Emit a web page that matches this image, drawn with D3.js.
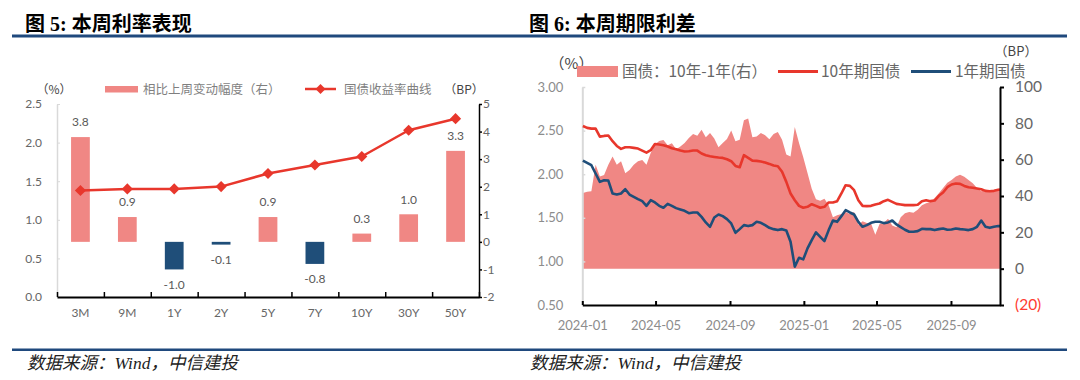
<!DOCTYPE html>
<html><head><meta charset="utf-8">
<script src="https://cdn.jsdelivr.net/npm/d3@7"></script>
<style>body{margin:0;background:#fff}svg{display:block}</style>
</head><body>
<svg id="c" width="1080" height="380"></svg>
<script>
// ---------- Figure 5 data ----------
const tenors = ["3M","9M","1Y","2Y","5Y","7Y","10Y","30Y","50Y"];
const yieldCurve = [1.38,1.40,1.40,1.43,1.60,1.71,1.82,2.16,2.31];
const weeklyChangeBP = [3.8,0.9,-1.0,-0.1,0.9,-0.8,0.3,1.0,3.3];
const curveTicks = [0,0.5,1.0,1.5,2.0,2.5];
const changeTicks = [-2,-1,0,1,2,3,4,5];

// ---------- Figure 6 data ----------
const dates = ["2024-01-02","2024-01-09","2024-01-16","2024-01-23","2024-01-30","2024-02-06","2024-02-13","2024-02-20","2024-02-27","2024-03-05",
"2024-03-12","2024-03-19","2024-03-26","2024-04-02","2024-04-09","2024-04-16","2024-04-23","2024-04-30","2024-05-07","2024-05-14",
"2024-05-21","2024-05-28","2024-06-04","2024-06-11","2024-06-18","2024-06-25","2024-07-02","2024-07-09","2024-07-16","2024-07-23",
"2024-07-30","2024-08-06","2024-08-13","2024-08-20","2024-08-27","2024-09-03","2024-09-10","2024-09-17","2024-09-24","2024-10-01",
"2024-10-08","2024-10-15","2024-10-22","2024-10-29","2024-11-05","2024-11-12","2024-11-19","2024-11-26","2024-12-03","2024-12-10",
"2024-12-17","2024-12-24","2024-12-31","2025-01-07","2025-01-14","2025-01-21","2025-01-28","2025-02-04","2025-02-11","2025-02-18",
"2025-02-25","2025-03-04","2025-03-11","2025-03-18","2025-03-25","2025-04-01","2025-04-08","2025-04-15","2025-04-22","2025-04-29",
"2025-05-06","2025-05-13","2025-05-20","2025-05-27","2025-06-03","2025-06-10","2025-06-17","2025-06-24","2025-07-01","2025-07-08",
"2025-07-15","2025-07-22","2025-07-29","2025-08-05","2025-08-12","2025-08-19","2025-08-26","2025-09-02","2025-09-09","2025-09-16",
"2025-09-23","2025-09-30","2025-10-07","2025-10-14","2025-10-21","2025-10-28","2025-11-04","2025-11-11","2025-11-18","2025-11-21"];
const cgb10y = [2.553,2.531,2.523,2.523,2.431,2.439,2.443,2.378,2.324,2.290,
2.309,2.309,2.302,2.294,2.271,2.248,2.275,2.347,2.340,2.332,
2.317,2.298,2.286,2.271,2.260,2.263,2.271,2.271,2.237,2.218,
2.206,2.198,2.191,2.187,2.172,2.149,2.095,2.080,2.218,2.187,
2.156,2.153,2.145,2.134,2.118,2.099,2.092,2.027,1.912,1.779,
1.702,1.637,1.615,1.626,1.656,1.637,1.615,1.626,1.676,1.676,
1.691,1.779,1.874,1.866,1.817,1.702,1.637,1.634,1.637,1.653,
1.664,1.691,1.706,1.683,1.660,1.653,1.645,1.645,1.645,1.649,
1.691,1.702,1.691,1.698,1.752,1.790,1.851,1.882,1.893,1.889,
1.866,1.851,1.844,1.836,1.828,1.809,1.805,1.809,1.821,1.824];
const cgb1y = [2.156,2.130,2.103,2.008,1.912,1.931,1.927,1.779,1.767,1.779,
1.828,1.767,1.740,1.714,1.691,1.637,1.702,1.676,1.637,1.615,
1.660,1.637,1.611,1.595,1.580,1.553,1.561,1.561,1.511,1.447,
1.397,1.504,1.538,1.519,1.485,1.435,1.328,1.370,1.416,1.405,
1.416,1.454,1.443,1.416,1.385,1.370,1.359,1.370,1.355,1.225,
0.940,1.042,1.023,1.149,1.244,1.332,1.282,1.233,1.359,1.469,
1.454,1.519,1.588,1.561,1.538,1.454,1.397,1.416,1.443,1.454,
1.454,1.439,1.447,1.469,1.424,1.393,1.363,1.340,1.340,1.347,
1.374,1.370,1.370,1.359,1.370,1.378,1.363,1.366,1.378,1.370,
1.366,1.359,1.370,1.397,1.469,1.397,1.385,1.397,1.405,1.405];
const spreadBP = [41.7,42.4,42.6,57.2,50.8,51.6,57.2,61.8,57.2,59.1,
52.5,54.3,57.2,59.1,59.8,57.2,63.7,68.3,70.3,70.8,
67.9,69.0,65.7,67.3,69.2,71.9,74.1,73.2,76.5,72.3,
74.7,71.6,66.8,69.2,71.4,76.0,70.1,71.0,81.7,82.6,
72.3,72.8,74.7,73.4,71.2,74.1,75.2,71.0,62.8,61.8,
78.0,69.2,61.3,52.7,44.0,38.2,37.4,38.5,34.9,28.3,
29.4,30.1,31.2,30.1,31.2,24.2,26.1,25.1,24.8,18.7,
24.6,25.1,27.5,23.7,22.8,28.3,30.5,31.2,30.8,32.5,
34.9,36.0,36.7,38.9,41.5,44.4,47.3,48.8,50.8,51.7,
50.6,48.8,47.0,44.4,42.6,43.5,42.9,42.6,43.3,43.5];
const dateTicks = ["2024-01","2024-05","2024-09","2025-01","2025-05","2025-09"];
const rateTicks = [0.5,1.0,1.5,2.0,2.5,3.0];
const spreadTicks = [-20,0,20,40,60,80,100];

// ---------- styling ----------
const NAVY = "#1F4E79", PINK = "#F08784", RED = "#E8372C", RULE = "#1F497D";
const NUM = "Lato, 'Noto Sans CJK SC', sans-serif";
const CJK = "'Noto Sans CJK SC', sans-serif";
const svg = d3.select("#c");

// titles, rules, sources
[[25,"图 5: 本周利率表现"],[529,"图 6: 本周期限利差"]].forEach(([x,t])=>{
  svg.append("text").attr("x",x).attr("y",31).attr("font-family","'Liberation Serif','Noto Sans CJK SC',serif")
    .attr("font-weight","bold").attr("font-size",20).attr("fill","#000").text(t);
});
svg.append("rect").attr("x",12).attr("y",34.5).attr("width",1055).attr("height",3).attr("fill",RULE);
svg.append("rect").attr("x",12).attr("y",348.5).attr("width",1055).attr("height",2.5).attr("fill",RULE);
[27,530].forEach(x=>{
  svg.append("text").attr("x",x).attr("y",369).attr("font-family","'Liberation Serif','Noto Sans CJK SC',serif")
    .attr("font-style","italic").attr("font-size",17.5).attr("fill","#222").text("数据来源：Wind，中信建投");
});

function styleAxis(g, color, lineColor, lineWidth, size){
  g.selectAll("text").attr("font-family",NUM).attr("font-size",size).attr("fill",color);
  g.select(".domain").attr("stroke",lineColor).attr("stroke-width",lineWidth);
  g.selectAll(".tick line").attr("stroke",lineColor).attr("stroke-width",lineWidth);
}

// ================= Figure 5 =================
(function(){
  const L=57, R=479, T=104, B=297;
  const x = d3.scaleBand().domain(tenors).range([L,R]).paddingInner(0.6).paddingOuter(0.3);
  const yL = d3.scaleLinear().domain([0,2.5]).range([B,T]);
  const yR = d3.scaleLinear().domain([-2,5]).range([B,T]);

  // left axis
  const gl = svg.append("g").attr("transform",`translate(${L},0)`)
    .call(d3.axisLeft(yL).tickValues(curveTicks).tickFormat(d3.format(".1f")).tickSize(0).tickSizeOuter(0).tickPadding(15));
  styleAxis(gl,"#666","#d9d9d9",1.5,12);
  svg.append("g").attr("transform",`translate(${L},0)`)
    .call(d3.axisRight(yL).tickValues(curveTicks.slice(1)).tickFormat("").tickSize(3).tickSizeOuter(0))
    .call(g=>{g.select(".domain").remove(); g.selectAll("line").attr("stroke","#d9d9d9");});

  // right axis
  const gr = svg.append("g").attr("transform",`translate(${R},0)`)
    .call(d3.axisRight(yR).tickValues(changeTicks).tickFormat(d=>String(d).replace("−","-")).tickSize(3).tickSizeOuter(0).tickPadding(1));
  styleAxis(gr,"#666","#000",1.5,12);

  // bars
  svg.append("g").selectAll("rect").data(tenors).join("rect")
    .attr("x",d=>x(d)).attr("width",x.bandwidth())
    .attr("y",(d,i)=>Math.min(yR(0),yR(weeklyChangeBP[i])))
    .attr("height",(d,i)=>Math.abs(yR(weeklyChangeBP[i])-yR(0)))
    .attr("fill",(d,i)=>weeklyChangeBP[i]>=0?PINK:NAVY);
  svg.append("g").selectAll("text").data(tenors).join("text")
    .attr("x",d=>x(d)+x.bandwidth()/2)
    .attr("y",(d,i)=>{const v=weeklyChangeBP[i]; return v>=0? yR(v)-15+4.3 : yR(v)+15+4.3;})
    .attr("text-anchor","middle").attr("font-family",NUM).attr("font-size",12).attr("fill","#595959")
    .text((d,i)=>weeklyChangeBP[i].toFixed(1));

  // bottom axis
  const gb = svg.append("g").attr("transform",`translate(0,${B})`)
    .call(d3.axisBottom(x).tickSize(0).tickSizeOuter(0).tickPadding(11));
  styleAxis(gb,"#666","#000",2,12);
  const edge = d3.scaleLinear().domain([0,tenors.length]).range([L,R]);
  svg.append("g").attr("transform",`translate(0,${B})`)
    .call(d3.axisTop(edge).tickValues(d3.range(0,tenors.length+1)).tickFormat("").tickSize(5).tickSizeOuter(0))
    .call(g=>{g.select(".domain").remove(); g.selectAll("line").attr("stroke","#000").attr("stroke-width",1.5);});

  // yield curve
  const cx = d=>x(d)+x.bandwidth()/2;
  svg.append("path").datum(tenors)
    .attr("d",d3.line().x(cx).y((d,i)=>yL(yieldCurve[i])))
    .attr("fill","none").attr("stroke",RED).attr("stroke-width",2.5).attr("stroke-linejoin","round");
  svg.append("g").selectAll("path").data(tenors).join("path")
    .attr("d",d3.symbol(d3.symbolSquare,62)())
    .attr("transform",(d,i)=>`translate(${cx(d)},${yL(yieldCurve[i])}) rotate(45)`)
    .attr("fill",RED);

  // units & legend
  svg.append("text").attr("x",54).attr("y",94).attr("text-anchor","middle").attr("font-family",CJK).attr("font-size",12).attr("fill","#444").text("（%）");
  svg.append("text").attr("x",464).attr("y",94).attr("text-anchor","middle").attr("font-family",CJK).attr("font-size",12).attr("fill","#444").text("（BP）");
  svg.append("rect").attr("x",105).attr("y",86).attr("width",33).attr("height",6.5).attr("fill",PINK);
  svg.append("text").attr("x",143).attr("y",93.5).attr("font-family",CJK).attr("font-size",12.5).attr("fill","#7f7f7f").text("相比上周变动幅度（右）");
  svg.append("line").attr("x1",305).attr("x2",336).attr("y1",89).attr("y2",89).attr("stroke",RED).attr("stroke-width",2.5);
  svg.append("path").attr("d",d3.symbol(d3.symbolSquare,50)()).attr("transform","translate(320.5,89) rotate(45)").attr("fill",RED);
  svg.append("text").attr("x",344).attr("y",93.5).attr("font-family",CJK).attr("font-size",12.5).attr("fill","#7f7f7f").text("国债收益率曲线");
})();

// ================= Figure 6 =================
(function(){
  const L=582.3, R=1000, T=87, B=305;
  const parse = d3.timeParse("%Y-%m-%d"), parseM = d3.timeParse("%Y-%m");
  const rows = dates.map((d,i)=>({date:parse(d), y10:cgb10y[i], y1:cgb1y[i], sp:spreadBP[i]}));
  const x = d3.scaleTime().domain([parse("2024-01-01"), parse("2025-11-21")]).range([L,R]);
  const yL = d3.scaleLinear().domain([0.5,3.0]).range([B,T]);
  const yR = d3.scaleLinear().domain([-20,100]).range([B,T]);

  // spread area
  svg.append("path").datum(rows)
    .attr("d",d3.area().x(d=>x(d.date)).y0(yR(0)).y1(d=>yR(d.sp)))
    .attr("fill",PINK);

  // left axis
  const gl = svg.append("g").attr("transform",`translate(${L},0)`)
    .call(d3.axisLeft(yL).tickValues(rateTicks).tickFormat(d3.format(".2f")).tickSize(0).tickSizeOuter(0).tickPadding(19));
  styleAxis(gl,"#8c8c8c","#d9d9d9",2,13);
  svg.append("g").attr("transform",`translate(${L},0)`)
    .call(d3.axisRight(yL).tickValues(rateTicks.slice(1)).tickFormat("").tickSize(3).tickSizeOuter(0))
    .call(g=>{g.select(".domain").remove(); g.selectAll("line").attr("stroke","#d9d9d9").attr("stroke-width",1.5);});

  // lines
  svg.append("path").datum(rows).attr("d",d3.line().x(d=>x(d.date)).y(d=>yL(d.y10)))
    .attr("fill","none").attr("stroke",RED).attr("stroke-width",2.6).attr("stroke-linejoin","round");
  svg.append("path").datum(rows).attr("d",d3.line().x(d=>x(d.date)).y(d=>yL(d.y1)))
    .attr("fill","none").attr("stroke",NAVY).attr("stroke-width",2.6).attr("stroke-linejoin","round");

  // right axis
  const gr = svg.append("g").attr("transform",`translate(${R},0)`)
    .call(d3.axisRight(yR).tickValues(spreadTicks).tickFormat(d=>d<0?`(${-d})`:String(d)).tickSize(4).tickSizeOuter(0).tickPadding(11));
  styleAxis(gr,"#666","#000",2,15.5);
  gr.selectAll(".tick text").filter(d=>d<0).attr("fill","#FF3B30");

  // bottom axis
  const tv = dateTicks.map(parseM);
  const gb = svg.append("g").attr("transform",`translate(0,${B})`)
    .call(d3.axisBottom(x).tickValues(tv).tickFormat(d3.timeFormat("%Y-%m")).tickSize(0).tickSizeOuter(0).tickPadding(16));
  styleAxis(gb,"#8c8c8c","#000",2.2,13);
  svg.append("g").attr("transform",`translate(0,${B})`)
    .call(d3.axisTop(x).tickValues(tv).tickFormat("").tickSize(4).tickSizeOuter(0))
    .call(g=>{g.select(".domain").remove(); g.selectAll("line").attr("stroke","#000").attr("stroke-width",2);});

  // units & legend
  svg.append("text").attr("x",571.5).attr("y",69).attr("text-anchor","middle").attr("font-family",CJK).attr("font-size",15).attr("fill","#444").text("（%）");
  svg.append("rect").attr("x",577).attr("y",66).attr("width",41).attr("height",11).attr("fill",PINK);
  svg.append("text").attr("x",622).attr("y",77).attr("font-family",CJK).attr("font-size",15.5).attr("fill","#666").text("国债：10年-1年(右）");
  svg.append("line").attr("x1",778).attr("x2",818).attr("y1",71.5).attr("y2",71.5).attr("stroke",RED).attr("stroke-width",3);
  svg.append("text").attr("x",821).attr("y",77).attr("font-family",CJK).attr("font-size",15.5).attr("fill","#666").text("10年期国债");
  svg.append("line").attr("x1",911).attr("x2",951).attr("y1",71.5).attr("y2",71.5).attr("stroke",NAVY).attr("stroke-width",3);
  svg.append("text").attr("x",955).attr("y",77).attr("font-family",CJK).attr("font-size",15.5).attr("fill","#666").text("1年期国债");
  svg.append("text").attr("x",1016).attr("y",56).attr("text-anchor","middle").attr("font-family",CJK).attr("font-size",13).attr("fill","#444").text("（BP）");
})();
</script>
</body></html>
